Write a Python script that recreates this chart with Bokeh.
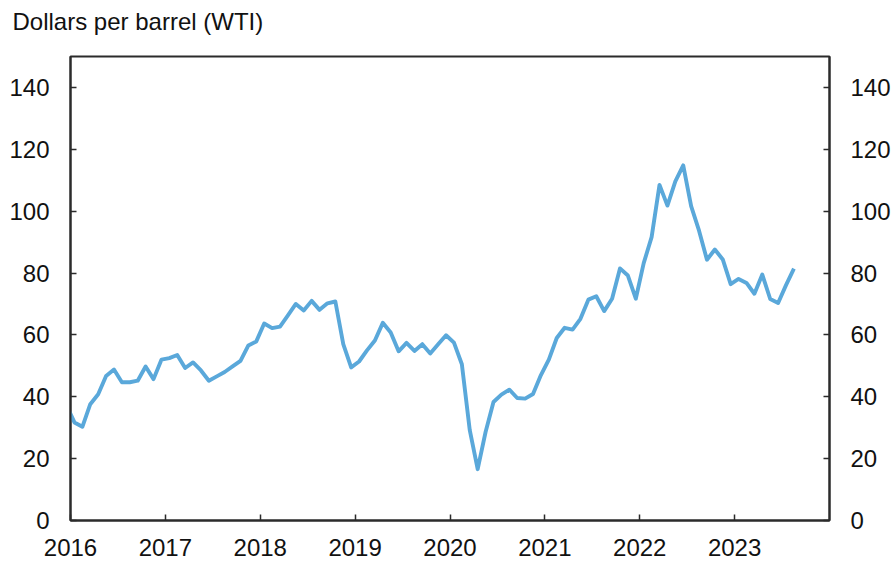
from bokeh.plotting import figure
from bokeh.models import LinearAxis, FixedTicker, Range1d, BasicTickFormatter, Title
from bokeh.embed import file_html
from bokeh.resources import INLINE

# Monthly average WTI spot price, Dec 2015 - Aug 2023 (dollars per barrel)
years = [2015] + [2016] * 12 + [2017] * 12 + [2018] * 12 + [2019] * 12 + [2020] * 12 + [2021] * 12 + [2022] * 12 + [2023] * 8
months = [12] + list(range(1, 13)) * 7 + list(range(1, 9))
prices = [
    37.2,
    31.7, 30.3, 37.6, 40.8, 46.7, 48.8, 44.7, 44.7, 45.2, 49.8, 45.7, 52.0,
    52.5, 53.5, 49.3, 51.1, 48.5, 45.2, 46.6, 48.0, 49.8, 51.6, 56.6, 57.9,
    63.7, 62.2, 62.7, 66.3, 70.0, 67.9, 71.0, 68.1, 70.2, 70.8, 57.0, 49.5,
    51.4, 55.0, 58.2, 63.9, 60.8, 54.7, 57.4, 54.8, 57.0, 54.0, 57.0, 59.9,
    57.5, 50.5, 29.2, 16.6, 28.6, 38.3, 40.7, 42.3, 39.6, 39.4, 40.9, 47.0,
    52.0, 59.0, 62.3, 61.7, 65.2, 71.4, 72.5, 67.7, 71.7, 81.5, 79.2, 71.7,
    83.2, 91.6, 108.5, 101.8, 109.6, 114.8, 101.6, 93.7, 84.3, 87.6, 84.4, 76.4,
    78.1, 76.8, 73.3, 79.5, 71.6, 70.3, 76.1, 81.4,
]
year_ticks = [2016, 2017, 2018, 2019, 2020, 2021, 2022, 2023]
value_ticks = [0, 20, 40, 60, 80, 100, 120, 140]
title_text = "Dollars per barrel (WTI)"

# mid-month positions in decimal years
xs = [y + (m - 0.5) / 12 for y, m in zip(years, months)]

FONT = "Liberation Sans"
AXIS_COLOR = "#2b2b2b"
LINE_COLOR = "#5aa8da"

p = figure(
    width=894, height=566,
    output_backend="svg", toolbar_location=None,
    x_range=Range1d(2016, 2024), y_range=Range1d(0, 150),
    min_border_left=70, min_border_right=65,
    min_border_top=56, min_border_bottom=46,
    outline_line_color=AXIS_COLOR, outline_line_width=2,
    background_fill_color="white", border_fill_color="white",
)
p.title_location = None

p.line(xs, prices, line_color=LINE_COLOR, line_width=3.9, line_join="round")

p.xgrid.visible = False
p.ygrid.visible = False

# spacer between the frame and the units title
spacer = Title(text=" ", text_font_size="1px", standoff=19)
p.add_layout(spacer, "above")

main_title = Title(
    text=title_text, text_font=FONT, text_font_size="24px",
    text_font_style="normal", text_color="#111111",
    align="left", offset=-58, standoff=0,
)
p.add_layout(main_title, "above")

right_axis = LinearAxis()
p.add_layout(right_axis, "right")

p.yaxis[0].major_label_standoff = 21
right_axis.major_label_standoff = 21
for ax in [p.yaxis[0], right_axis]:
    ax.ticker = FixedTicker(ticks=value_ticks)

xa = p.xaxis[0]
xa.ticker = FixedTicker(ticks=year_ticks)
xa.formatter = BasicTickFormatter(use_scientific=False)
xa.major_label_standoff = 18

for ax in [xa, p.yaxis[0], right_axis]:
    ax.axis_line_color = AXIS_COLOR
    ax.axis_line_width = 2
    ax.major_tick_line_color = AXIS_COLOR
    ax.major_tick_line_width = 1.5
    ax.major_tick_in = 6
    ax.major_tick_out = 0
    ax.minor_tick_line_color = None
    ax.major_label_text_font = FONT
    ax.major_label_text_font_size = "24px"
    ax.major_label_text_color = "#111111"

open("out.html", "w").write(file_html(p, INLINE))
